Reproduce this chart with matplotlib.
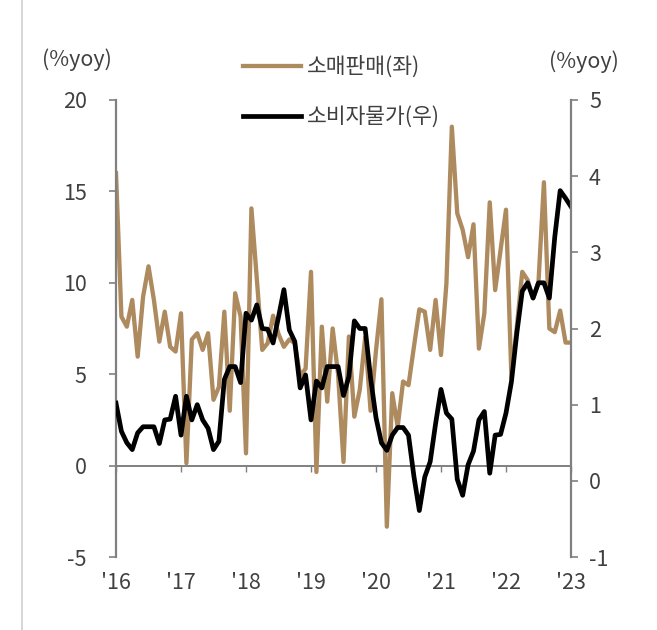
import numpy as np
import matplotlib
matplotlib.use("Agg")
import matplotlib.pyplot as plt
from matplotlib.lines import Line2D

plt.rcParams['font.family'] = ['Noto Sans CJK KR', 'DejaVu Sans']
plt.rcParams['font.weight'] = 'light'
plt.rcParams['axes.unicode_minus'] = False

# monthly, Jan 2016 .. Jan 2023
retail = [16.0, 8.15, 7.6, 9.06, 5.96, 9.24, 10.9, 9.06, 6.78, 8.42, 6.5, 6.24,
          8.33, 0.13, 6.9, 7.24, 6.33, 7.24, 3.6, 4.3, 8.42, 3.0, 9.43, 8.15,
          0.67, 14.07, 10.2, 6.33, 6.7, 8.2, 7.2, 6.5, 6.9, 6.7, 4.9, 5.3,
          10.6, -0.35, 7.6, 3.5, 7.5, 5.0, 0.2, 7.06, 2.68, 4.14, 7.0, 3.0,
          6.3, 9.1, -3.34, 3.96, 2.13, 4.6, 4.4, 6.5, 8.55, 8.42, 6.33, 9.06,
          6.05, 9.97, 18.54, 13.8, 12.9, 11.4, 13.2, 6.4, 8.33, 14.4, 9.6, 11.8,
          14.0, 4.8, 7.6, 10.6, 10.15, 9.15, 10.06, 15.5, 7.5, 7.3, 8.48, 6.73,
          6.73]
cpi = [1.02, 0.65, 0.5, 0.41, 0.63, 0.71, 0.71, 0.71, 0.49, 0.8, 0.81, 1.11,
       0.6, 1.11, 0.8, 1.0, 0.8, 0.69, 0.41, 0.52, 1.33, 1.5, 1.5, 1.29,
       2.2, 2.11, 2.31, 2.0, 1.99, 1.81, 2.15, 2.51, 1.98, 1.83, 1.22, 1.39,
       0.8, 1.31, 1.22, 1.5, 1.5, 1.5, 1.12, 1.37, 2.1, 2.0, 2.0, 1.35,
       0.83, 0.5, 0.4, 0.6, 0.7, 0.7, 0.6, 0.06, -0.39, 0.05, 0.25, 0.75,
       1.2, 0.89, 0.81, 0.02, -0.19, 0.21, 0.39, 0.8, 0.91, 0.1, 0.6, 0.61,
       0.89, 1.3, 1.94, 2.49, 2.6, 2.4, 2.6, 2.6, 2.4, 3.2, 3.81, 3.71,
       3.6]
year_labels = ["'16", "'17", "'18", "'19", "'20", "'21", "'22", "'23"]

brown = '#AE8A5F'
gray = '#808080'
txt = '#404040'
fs = 15.5

x = np.arange(len(retail))
year_pos = np.arange(0, len(retail), 12)

fig = plt.figure(figsize=(6.57, 6.30), dpi=100)
ax = fig.add_axes([116/657, 1 - 557/630, 455/657, 457/630])
ax2 = ax.twinx()

l1, = ax.plot(x, retail, color=brown, linewidth=3.1, label='소매판매(좌)')
l2, = ax2.plot(x, cpi, color='black', linewidth=3.4, label='소비자물가(우)')

ax.set_xlim(0, len(retail) - 1)
ax.set_ylim(-5, 20)
ax.set_yticks(np.arange(-5, 21, 5))
ax2.set_ylim(-1, 5)
ax2.set_yticks(np.arange(-1, 6, 1))

ax.set_xticks(year_pos)
ax.set_xticklabels(year_labels)
ax.tick_params(axis='x', length=0, pad=11, labelsize=fs, labelcolor=txt)
ax.tick_params(axis='y', length=5, width=1.2, color=gray, direction='out',
               pad=16, labelsize=fs, labelcolor=txt)
ax2.tick_params(axis='y', length=5, width=1.2, color=gray, direction='out',
                pad=8, labelsize=fs, labelcolor=txt)

for a in (ax, ax2):
    for s in ('top', 'bottom'):
        a.spines[s].set_visible(False)
ax.spines['right'].set_visible(False)
ax2.spines['left'].set_visible(False)
ax.spines['left'].set_color(gray)
ax.spines['left'].set_linewidth(1.6)
ax2.spines['right'].set_color(gray)
ax2.spines['right'].set_linewidth(1.6)

# zero line with year ticks
zero = ax.secondary_xaxis(0.2)
zero.set_xticks(year_pos)
zero.set_xticklabels([])
zero.tick_params(axis='x', length=4, width=1, color=gray, direction='out')
for s in zero.spines.values():
    s.set_color(gray)
    s.set_linewidth(1.4)

fig.text(77/657, 1 - 60/630, '(%yoy)', ha='center', va='center', fontsize=fs, color=txt)
fig.text(584/657, 1 - 62/630, '(%yoy)', ha='center', va='center', fontsize=fs, color=txt)

fig.legend([l1, l2], [l1.get_label(), l2.get_label()], loc='upper left',
           bbox_to_anchor=(243/657, 1 - 56/630), frameon=False, fontsize=fs,
           handlelength=2.7, handletextpad=0.25, labelspacing=1.3,
           borderpad=0, borderaxespad=0, labelcolor=txt)

fig.add_artist(Line2D([22/657, 22/657], [0, 1], transform=fig.transFigure,
                      color='#d0d0d0', linewidth=1.2))

fig.savefig('out.png', dpi=100)
